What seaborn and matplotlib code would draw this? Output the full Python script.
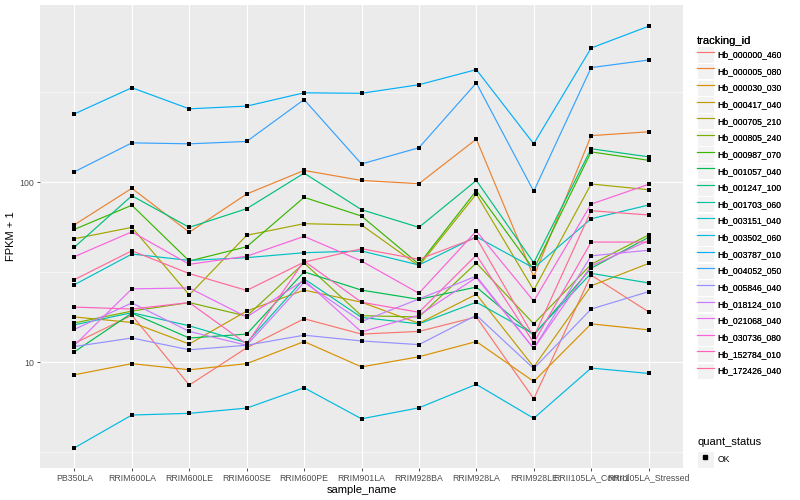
import numpy as np
import pandas as pd
import matplotlib
matplotlib.use("Agg")
import matplotlib.pyplot as plt
from matplotlib.lines import Line2D
from matplotlib.patches import Rectangle
from matplotlib.ticker import FixedLocator, FixedFormatter, NullFormatter
import seaborn as sns

samples = ["PB350LA", "RRIM600LA", "RRIM600LE", "RRIM600SE", "RRIM600PE", "RRIM901LA",
           "RRIM928BA", "RRIM928LA", "RRIM928LE", "RRII105LA_Control", "RRII105LA_Stressed"]

tracking_ids = ["Hb_000000_460", "Hb_000005_080", "Hb_000030_030", "Hb_000417_040",
                "Hb_000705_210", "Hb_000805_240", "Hb_000987_070", "Hb_001057_040",
                "Hb_001247_100", "Hb_001703_060", "Hb_003151_040", "Hb_003502_060",
                "Hb_003787_010", "Hb_004052_050", "Hb_005846_040", "Hb_018124_010",
                "Hb_021068_040", "Hb_030736_080", "Hb_152784_010", "Hb_172426_040"]

# FPKM + 1, one list per gene, same order as samples
hb_000000_460 = [12.7, 18.2, 7.45, 12.0, 17.4, 14.3, 14.8, 17.8, 6.25, 30.4, 19.0]
hb_000005_080 = [57.9, 92.3, 52.6, 85.8, 116, 102, 97.9, 173, 29.8, 181, 190]
hb_000030_030 = [8.5, 9.8, 9.06, 9.8, 13.0, 9.4, 10.7, 13.0, 7.8, 16.3, 15.1]
hb_000417_040 = [17.8, 16.6, 12.6, 19.2, 25.1, 21.5, 16.4, 23.8, 9.4, 26.5, 35.3]
hb_000705_210 = [48.4, 56.0, 23.6, 50.6, 58.7, 57.7, 34.2, 85.8, 25.1, 97.5, 90.6]
hb_000805_240 = [16.5, 19.2, 21.4, 18.0, 35.5, 18.1, 17.8, 35.5, 16.3, 34.9, 50.8]
hb_000987_070 = [54.6, 74.3, 36.4, 43.7, 82.2, 64.7, 35.0, 89.5, 32.7, 147, 132]
hb_001057_040 = [11.4, 18.7, 13.6, 14.3, 31.7, 25.1, 22.3, 26.1, 14.1, 33.2, 49.3]
hb_001247_100 = [43.5, 83.9, 56.0, 71.1, 112, 70.2, 56.0, 102, 35.6, 153, 138]
hb_001703_060 = [16.1, 18.8, 15.9, 12.8, 29.0, 17.7, 16.3, 21.5, 14.3, 31.1, 27.5]
hb_003151_040 = [26.9, 39.8, 36.7, 38.0, 40.5, 41.4, 34.6, 49.7, 33.3, 62.5, 74.5]
hb_003502_060 = [3.34, 5.08, 5.19, 5.55, 7.2, 4.84, 5.57, 7.52, 4.87, 9.26, 8.65]
hb_003787_010 = [239, 334, 255, 264, 313, 311, 347, 421, 163, 555, 733]
hb_004052_050 = [114, 165, 163, 168, 287, 126, 155, 355, 88.8, 432, 476]
hb_005846_040 = [12.2, 13.6, 11.7, 12.4, 14.1, 13.1, 12.5, 18.2, 9.2, 19.7, 24.6]
hb_018124_010 = [15.2, 21.3, 14.8, 12.4, 27.7, 16.8, 22.4, 30.0, 11.9, 38.9, 41.8]
hb_021068_040 = [12.4, 25.5, 25.8, 17.8, 28.5, 14.7, 18.2, 29.5, 11.9, 34.2, 47.2]
hb_030736_080 = [38.5, 52.9, 34.9, 38.7, 49.9, 36.4, 24.1, 53.4, 21.8, 75.4, 97.1]
hb_152784_010 = [20.2, 19.7, 21.4, 12.6, 36.4, 21.5, 18.9, 39.3, 12.8, 46.4, 46.4]
hb_172426_040 = [28.7, 41.5, 31.0, 25.0, 35.9, 42.6, 37.2, 49.1, 13.8, 69.3, 65.6]

series = [hb_000000_460, hb_000005_080, hb_000030_030, hb_000417_040, hb_000705_210,
          hb_000805_240, hb_000987_070, hb_001057_040, hb_001247_100, hb_001703_060,
          hb_003151_040, hb_003502_060, hb_003787_010, hb_004052_050, hb_005846_040,
          hb_018124_010, hb_021068_040, hb_030736_080, hb_152784_010, hb_172426_040]


def hue_pal(n, l=65, c=100):
    # ggplot2 default discrete colours (polar LUV)
    hues = np.linspace(15, 375 - 360 / n, n)
    Y = ((l + 16) / 116) ** 3
    xn, yn, zn = 0.95047, 1.0, 1.08883
    un = 4 * xn / (xn + 15 * yn + 3 * zn)
    vn = 9 * yn / (xn + 15 * yn + 3 * zn)
    m = np.array([[3.2404542, -1.5371385, -0.4985314],
                  [-0.9692660, 1.8760108, 0.0415560],
                  [0.0556434, -0.2040259, 1.0572252]])
    out = []
    for h in hues:
        u = c * np.cos(np.radians(h))
        v = c * np.sin(np.radians(h))
        up = u / (13 * l) + un
        vp = v / (13 * l) + vn
        X = 9 * Y * up / (4 * vp)
        Z = Y * (12 - 3 * up - 20 * vp) / (4 * vp)
        rgb = m @ np.array([X, Y, Z])
        rgb = np.where(rgb <= 0.0031308, 12.92 * rgb, 1.055 * np.abs(rgb) ** (1 / 2.4) - 0.055)
        out.append(tuple(np.clip(rgb, 0, 1)))
    return out


colors = hue_pal(len(tracking_ids))

rows = []
for tid, vals in zip(tracking_ids, series):
    for s, v in zip(samples, vals):
        rows.append({"tracking_id": tid, "sample_name": s, "fpkm": v, "quant_status": "OK"})
df = pd.DataFrame(rows)

plt.rcParams["font.family"] = ["Liberation Sans", "DejaVu Sans"]

fig = plt.figure(figsize=(8, 5), dpi=100)
ax = fig.add_axes([40 / 800, 32 / 500, 643 / 800, 463 / 500])
ax.set_facecolor("#EBEBEB")

sns.lineplot(data=df, x="sample_name", y="fpkm", hue="tracking_id", palette=colors,
             hue_order=tracking_ids, sort=False, linewidth=0.85, legend=False, ax=ax)
sns.scatterplot(data=df, x="sample_name", y="fpkm", color="black", marker="s", s=9,
                linewidth=0, legend=False, ax=ax, zorder=3)

ax.set_yscale("log")
ax.set_ylim(2.58, 962)
ax.set_xlim(-0.6, len(samples) - 0.4)
ax.yaxis.set_major_locator(FixedLocator([10, 100]))
ax.yaxis.set_major_formatter(FixedFormatter(["10", "100"]))
ax.yaxis.set_minor_locator(FixedLocator([10 ** 0.5, 10 ** 1.5, 10 ** 2.5]))
ax.yaxis.set_minor_formatter(NullFormatter())

ax.grid(True, which="major", color="white", linewidth=0.8)
ax.grid(True, which="minor", axis="y", color="white", linewidth=0.4)
ax.set_axisbelow(True)
for sp in ax.spines.values():
    sp.set_visible(False)
ax.tick_params(axis="both", which="major", length=2.5, width=0.6, color="#333333",
               labelsize=6.3, labelcolor="#4D4D4D", pad=1.5)
ax.tick_params(axis="y", which="minor", length=0)

ax.set_xlabel("sample_name", fontsize=8, labelpad=2)
ax.set_ylabel("FPKM + 1", fontsize=8, labelpad=3)

key_bg = dict(facecolor="#F2F2F2", edgecolor="white", linewidth=0.8)
handles = [(Rectangle((0, 0), 1, 1, **key_bg), Line2D([], [], color=c, linewidth=0.85))
           for c in colors]
leg1 = fig.legend(handles, tracking_ids, loc="upper left", bbox_to_anchor=(691 / 800, 1 - 30 / 500),
                  frameon=False, title="tracking_id", fontsize=6.2, title_fontsize=8,
                  handlelength=1.95, handleheight=2.52, labelspacing=0.05,
                  handletextpad=0.4, borderpad=0.2, alignment="left")

ok_handle = [(Rectangle((0, 0), 1, 1, **key_bg),
              Line2D([], [], color="black", marker="s", markersize=2.6, linestyle="none"))]
leg2 = fig.legend(ok_handle, ["OK"], loc="upper left", bbox_to_anchor=(691 / 800, 1 - 431 / 500),
                  frameon=False, title="quant_status", fontsize=6.2, title_fontsize=8,
                  handlelength=1.95, handleheight=2.52, handletextpad=0.4, borderpad=0.2,
                  alignment="left")
fig.add_artist(leg1)

fig.savefig("out.png", dpi=100, facecolor="white")
